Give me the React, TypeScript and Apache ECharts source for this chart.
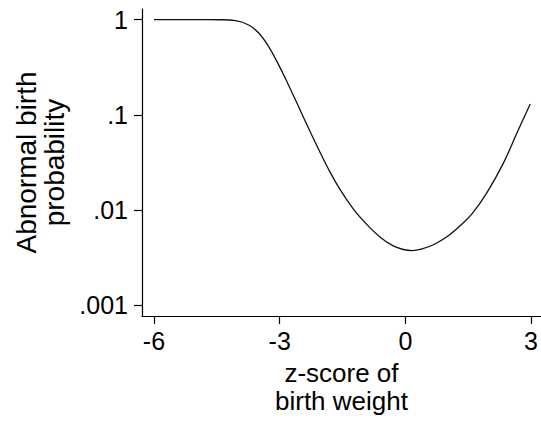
import React, { useEffect, useRef } from "react";
import * as echarts from "echarts";

const zScores = [-6, -5, -4.4, -4.05, -3.74, -3.5, -3.27, -3.03, -2.79, -2.55, -2.31, -2.08, -1.84, -1.56, -1.24, -0.92, -0.6, -0.3, -0.05, 0.17, 0.4, 0.67, 1.0, 1.3, 1.6, 1.94, 2.34, 2.66, 2.98];
const probabilities = [1, 1, 0.998, 0.976, 0.879, 0.724, 0.527, 0.339, 0.206, 0.122, 0.0721, 0.0441, 0.0271, 0.0164, 0.0102, 0.00703, 0.00516, 0.0042, 0.00383, 0.00373, 0.00389, 0.0043, 0.00525, 0.00676, 0.0092, 0.015, 0.031, 0.064, 0.13];
const xTicks = [-6, -3, 0, 3];
const yTickValues = [0.001, 0.01, 0.1, 1];
const yTickLabels = [".001", ".01", ".1", "1"];

const FONT = "'Liberation Sans', Arial, Helvetica, sans-serif";

export default function App() {
  const ref = useRef<HTMLDivElement>(null);
  useEffect(() => {
    if (!ref.current) return;
    const chart = echarts.init(ref.current, undefined, { renderer: "svg" });
    const logTicks = yTickValues.map((v) => Math.log10(v));
    const labelFor = (v: number) => {
      const i = logTicks.findIndex((t) => Math.abs(t - v) < 1e-6);
      return i >= 0 ? yTickLabels[i] : "";
    };
    chart.setOption({
      animation: false,
      backgroundColor: "#ffffff",
      grid: { left: 142, right: 0, top: 9, bottom: 105, containLabel: false },
      xAxis: {
        type: "value",
        min: -6.286,
        max: 3.236,
        splitLine: { show: false },
        axisLine: { show: true, onZero: false, lineStyle: { color: "#000", width: 1.2 } },
        axisTick: { show: true, length: 8, customValues: xTicks, lineStyle: { color: "#000", width: 1.2 } },
        axisLabel: {
          customValues: xTicks,
          margin: 12,
          fontSize: 25,
          fontFamily: FONT,
          color: "#000",
          formatter: (v: number) => String(Math.round(v)),
        },
        name: "z-score of\nbirth weight",
        nameLocation: "middle",
        nameGap: 43,
        nameTextStyle: { fontSize: 26, fontFamily: FONT, color: "#000", lineHeight: 28, verticalAlign: "top" },
      },
      yAxis: {
        type: "value",
        min: -3.116,
        max: 0.112,
        splitLine: { show: false },
        axisLine: { show: true, onZero: false, lineStyle: { color: "#000", width: 1.2 } },
        axisTick: { show: true, length: 8, customValues: logTicks, lineStyle: { color: "#000", width: 1.2 } },
        axisLabel: {
          customValues: logTicks,
          margin: 14,
          fontSize: 25,
          fontFamily: FONT,
          color: "#000",
          formatter: (v: number) => labelFor(v),
        },
        name: "Abnormal birth\nprobability",
        nameLocation: "middle",
        nameGap: 72,
        nameTextStyle: { fontSize: 28, fontFamily: FONT, color: "#000", lineHeight: 28 },
      },
      series: [
        {
          type: "line",
          data: zScores.map((x, i) => [x, Math.log10(probabilities[i])]),
          smooth: 0.4,
          showSymbol: false,
          lineStyle: { color: "#111", width: 1.3 },
        },
      ],
    });
    return () => chart.dispose();
  }, []);
  return <div ref={ref} style={{ width: 541, height: 421, position: "absolute", left: 0, top: 0 }} />;
}
